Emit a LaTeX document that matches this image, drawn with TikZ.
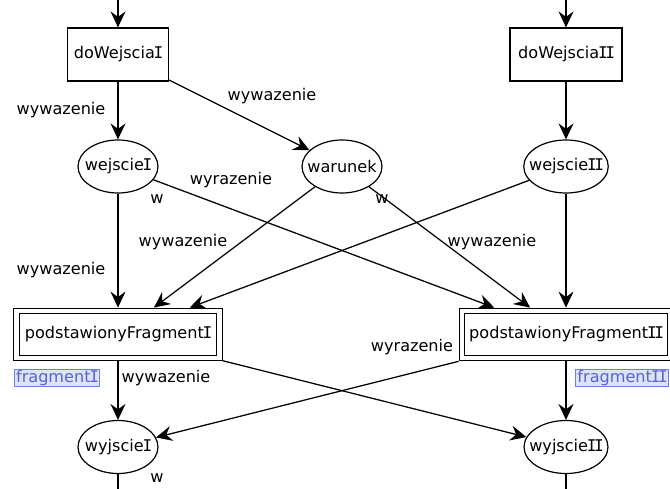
\documentclass[tikz,border=0pt]{standalone}
\usepackage{fontspec}
\setmainfont{DejaVu Sans}
\newfontfamily\slabfont{DejaVu Sans Mono}
% capital I with slab serifs, as in the labels' typeface
\newcommand{\slabI}{\kern-1.2pt{\slabfont I}\kern-1.2pt}
\usetikzlibrary{arrows.meta,shapes.geometric}
\definecolor{tagfill}{HTML}{DCE3FB}
\definecolor{tagline}{HTML}{6E80E2}
\definecolor{tagtext}{HTML}{5565D6}
\begin{document}
\begin{tikzpicture}[x=1pt,y=-1pt,
  every node/.style={font=\fontsize{16.1}{19}\selectfont, inner sep=0pt},
  trans/.style={draw, line width=1.2pt, rectangle, minimum width=101pt, minimum height=53pt},
  subst/.style={draw, line width=1.1pt, double, double distance=4.6pt, rectangle,
    minimum width=203pt, minimum height=47pt, outer sep=3.4pt},
  place/.style={draw, line width=1.2pt, ellipse, inner xsep=-7pt, inner ysep=0pt,
    minimum width=80pt, minimum height=53pt},
  lbl/.style={},
  tag/.style={draw=tagline, fill=tagfill, text=tagtext, line width=0.9pt,
    inner xsep=2pt, inner ysep=1pt},
  arc/.style={draw, line width=1.25pt, -{Stealth[length=16pt, width=15pt, inset=5.5pt]}},
  link/.style={draw, line width=1.25pt}]
\useasboundingbox (0,0) rectangle (670,488);

% transitions and places
\node[trans] (dI) at (118,54.5) {doWejscia\slabI};
\node[trans, minimum width=112pt] (dII) at (566,54.5) {doWejscia\slabI\slabI};
\node[place] (wI) at (118,166.5) {wejscie\slabI};
\node[place] (war) at (342,166.5) {warunek};
\node[place] (wII) at (566,166.5) {wejscie\slabI\slabI};
\node[subst] (pI) at (118,334.5) {podstawionyFragment\slabI};
\node[subst, minimum width=208pt] (pII) at (566,334.5) {podstawionyFragment\slabI\slabI};
\node[place] (yI) at (118,447) {wyjscie\slabI};
\node[place] (yII) at (566,447) {wyjscie\slabI\slabI};

% loose ends at the picture border
\coordinate (inI) at (118,-2);
\coordinate (inII) at (566,-2);
\coordinate (outI) at (118,492);
\coordinate (outII) at (566,492);

% connectors
\path[arc] (inI) -- (dI);
\path[arc] (inII) -- (dII);
\path[arc] (dI) -- (wI);
\path[arc] (dI) -- (war);
\path[arc] (dII) -- (wII);
\path[arc] (wI) -- (pI);
\path[arc] (wI) -- (pII);
\path[arc] (war) -- (pI);
\path[arc] (war) -- (pII);
\path[arc] (wII) -- (pI);
\path[arc] (wII) -- (pII);
\path[arc] (pI) -- (yI);
\path[arc] (pI) -- (yII);
\path[arc] (pII) -- (yI);
\path[arc] (pII) -- (yII);
\path[link] (yI) -- (outI);
\path[link] (yII) -- (outII);

% arc inscriptions
\node[lbl] (l1) at (61,110) {wywazenie};
\node[lbl] (l2) at (272,96) {wywazenie};
\node[lbl] (l3) at (231,180) {wyrazenie};
\node[lbl] (l4) at (157,199) {w};
\node[lbl] (l5) at (183,242) {wywazenie};
\node[lbl] (l6) at (382,199) {w};
\node[lbl] (l7) at (492,242) {wywazenie};
\node[lbl] (l8) at (61,270) {wywazenie};
\node[lbl] (l9) at (412,347) {wyrazenie};
\node[lbl] (l10) at (166,378) {wywazenie};
\node[lbl] (l11) at (157,478) {w};

% fragment tags
\node[tag] (fI) at (57,378) {fragment\slabI};
\node[tag] (fII) at (622,378) {fragment\slabI\slabI};
\end{tikzpicture}
\end{document}
